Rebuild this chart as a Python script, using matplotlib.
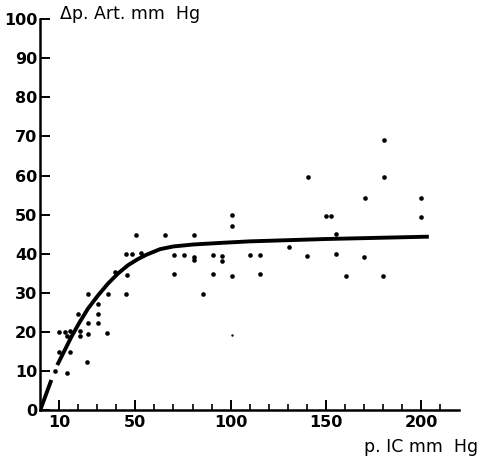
import matplotlib
matplotlib.use("Agg")
import matplotlib.pyplot as plt
import numpy as np

# Scatter data (p.IC mm Hg, delta p Art. mm Hg)
pic = [7.8, 10, 10, 13.1, 14.3, 15.7, 15.7, 14.3, 20, 20.9, 20.9, 25.3, 25.3, 25.3, 24.8,
       30.2, 30.2, 30.2, 35.5, 35.3, 39.3, 45.1, 48.1, 45.4, 45.1, 50.2, 52.8,
       65.5, 70.5, 70.5, 75.7, 80.6, 80.6, 80.6, 85.3, 90.5, 90.5, 95.3, 95.3,
       100.5, 100.5, 100.5, 110.1, 115.5, 115.5, 130.6, 140.2, 140.6, 149.8, 152.8,
       155.2, 155.2, 160.3, 170.1, 170.3, 180.1, 180.6, 180.6, 200, 200]
dp_art = [10, 20, 15, 20, 19, 20.3, 15, 9.5, 24.7, 20.2, 19, 29.8, 22.4, 19.6, 12.3,
          27.1, 24.7, 22.3, 29.8, 19.9, 35.4, 39.9, 39.9, 34.7, 29.8, 44.8, 40.2,
          44.8, 39.7, 34.8, 39.7, 44.8, 39.2, 38.4, 29.7, 39.7, 34.8, 39.4, 38.2,
          49.9, 47.2, 34.4, 39.6, 39.6, 34.9, 41.8, 39.5, 59.6, 49.7, 49.7,
          45.2, 39.9, 34.3, 39.2, 54.4, 34.4, 59.6, 69.2, 49.3, 54.4]
small_pic = [100.5]
small_dp = [19.3]

# Fitted curve: short initial dash, then main curve
dash_x = [0, 5.9]
dash_y = [0, 7.8]
curve_x = [9, 12, 16.4, 20.8, 25.1, 30.4, 35.6, 40.9, 46.1, 51.4, 55.9, 62.9, 69.9,
           80.4, 94.4, 110, 150, 204]
curve_y = [11.6, 14.5, 18.8, 22.6, 26.0, 29.4, 32.4, 35.0, 37.1, 38.7, 39.8, 41.2, 41.9,
           42.4, 42.8, 43.2, 43.8, 44.4]

xticks = [10, 50, 100, 150, 200]
yticks = [0, 10, 20, 30, 40, 50, 60, 70, 80, 90, 100]

fig = plt.figure(figsize=(4.82, 4.62), dpi=100)
ax = fig.add_axes([0.0832, 0.1115, 0.953 - 0.0832, 0.9589 - 0.1115])

ax.plot(dash_x, dash_y, color='black', lw=2.8, solid_capstyle='butt')
ax.plot(curve_x, curve_y, color='black', lw=2.8, solid_capstyle='butt',
        solid_joinstyle='round')
ax.scatter(pic, dp_art, s=11, color='black', zorder=3, linewidths=0)
ax.scatter(small_pic, small_dp, s=3, color='black', zorder=3, linewidths=0)

ax.set_xlim(0, 220)
ax.set_ylim(0, 100)
ax.spines['top'].set_visible(False)
ax.spines['right'].set_visible(False)
for s in ['left', 'bottom']:
    ax.spines[s].set_linewidth(1.8)

ax.set_xticks(xticks)
ax.set_xticks(np.arange(10, 220, 10), minor=True)
ax.set_yticks(yticks)
ax.tick_params(axis='both', which='major', direction='in', length=7, width=1.4,
               labelsize=11.5)
ax.tick_params(axis='x', which='minor', direction='in', length=4, width=1.2)
ax.tick_params(axis='y', which='major', pad=2)
ax.tick_params(axis='x', which='major', pad=3)
for lab in ax.get_xticklabels() + ax.get_yticklabels():
    lab.set_fontfamily('DejaVu Sans')
    lab.set_fontweight('bold')

ax.text(10.4, 100, 'Δp. Art. mm  Hg', fontsize=12.5, family='DejaVu Sans',
        va='baseline', ha='left')
fig.text(478 / 482, 1 - 451.7 / 462, 'p. IC mm  Hg', fontsize=12.5, family='DejaVu Sans',
         va='baseline', ha='right')

fig.savefig('out.png', dpi=100)
